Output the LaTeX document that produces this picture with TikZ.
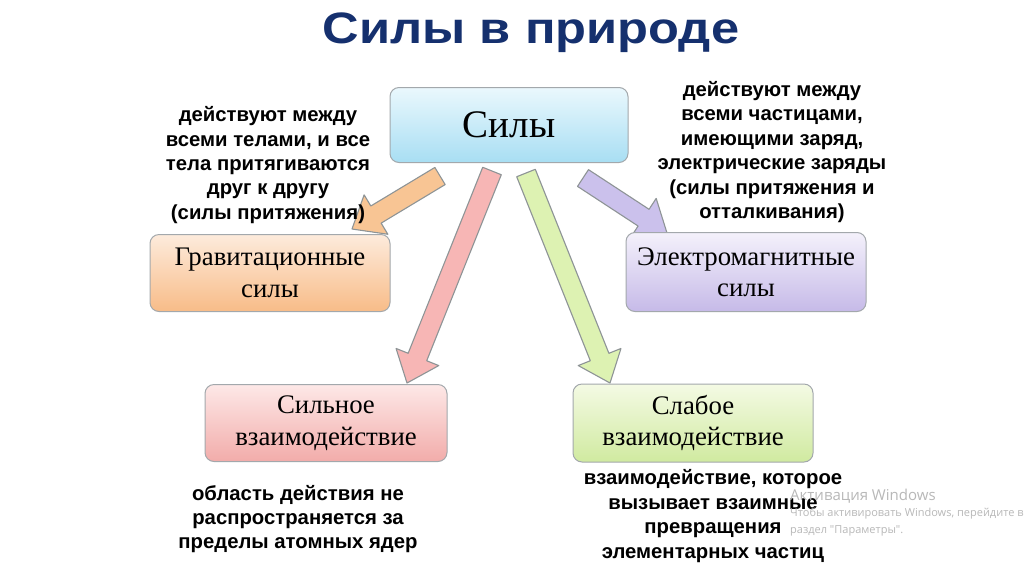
\documentclass[tikz,border=0pt]{standalone}
\usepackage{fontspec}
\setmainfont{Liberation Serif}
\setsansfont{Liberation Sans}
\newfontfamily\wmfont{Open Sans}
\usetikzlibrary{calc}
\definecolor{titleblue}{HTML}{15306E}
\definecolor{boxline}{HTML}{A3A8AC}
\definecolor{arrline}{HTML}{8E9496}
\definecolor{skyT}{HTML}{EAF8FD}\definecolor{skyB}{HTML}{A8DEF3}
\definecolor{orT}{HTML}{FDEBDC}\definecolor{orB}{HTML}{F8BC88}
\definecolor{viT}{HTML}{F4F1FB}\definecolor{viB}{HTML}{C6BAE8}
\definecolor{reT}{HTML}{FDE8E7}\definecolor{reB}{HTML}{F2ACAA}
\definecolor{grT}{HTML}{F4FAE4}\definecolor{grB}{HTML}{D0EAA0}
\definecolor{orA}{HTML}{F8C594}\definecolor{reA}{HTML}{F7B6B5}
\definecolor{grA}{HTML}{DDF2B2}\definecolor{viA}{HTML}{CBC1EC}
\newcommand{\blockarr}[3]{% tail, tip, fill colour
  \path ($(#2)!28pt!(#1)$) coordinate (bah);
  \draw[fill=#3, draw=arrline, line width=1.1pt, line join=round]
    ($(#1)!10pt!90:(#2)$) -- ($(bah)!10pt!-90:(#1)$) -- ($(bah)!23pt!-90:(#1)$)
    -- (#2) -- ($(bah)!23pt!90:(#1)$) -- ($(bah)!10pt!90:(#1)$)
    -- ($(#1)!10pt!-90:(#2)$) -- cycle;
}
\tikzset{
  box/.style={draw=boxline, line width=1pt, rounded corners=9pt, align=center,
    font=\fontsize{26.8}{31.5}\selectfont, minimum width=240pt, minimum height=77pt, inner sep=0pt},
  note/.style={align=center, font=\sffamily\bfseries\fontsize{20.3}{24.4}\selectfont, inner sep=0pt},
  wm/.style={text=black!28, anchor=west, inner sep=0pt}
}
\begin{document}
\begin{tikzpicture}[x=1pt, y=-1pt]
\useasboundingbox (0,0) rectangle (1024,574);
\fill[white] (0,0) rectangle (1024,574);

\node[font=\sffamily\bfseries\fontsize{44}{46}\selectfont, text=titleblue] (title) at (531,33) {\scalebox{1.15}[1]{Силы в природе}};

% arrow ends
\coordinate (oT) at (440,176); \coordinate (oH) at (352,229);
\coordinate (pT) at (492,171); \coordinate (pH) at (407,383);
\coordinate (gT) at (526,173); \coordinate (gH) at (610,383);
\coordinate (vT) at (583,178); \coordinate (vH) at (667,233);
\blockarr{oT}{oH}{orA}
\blockarr{pT}{pH}{reA}
\blockarr{gT}{gH}{grA}
\blockarr{vT}{vH}{viA}

\node[box, top color=skyT, bottom color=skyB, minimum width=238pt, minimum height=75pt,
  font=\fontsize{39}{40}\selectfont] (sily) at (509,125) {Силы};
\node[box, top color=orT, bottom color=orB] (grav) at (270,273) {Гравитационные\\силы};
\node[box, top color=viT, bottom color=viB, minimum height=79pt] (elec) at (746,272) {Электромагнитные\\силы};
\node[box, top color=reT, bottom color=reB, minimum width=242pt] (strong) at (326,423) {Сильное\\взаимодействие};
\node[box, top color=grT, bottom color=grB, minimum height=78pt] (weak) at (693,423) {Слабое\\взаимодействие};

\node[note] (ngrav) at (268,165) {действуют между\\всеми телами, и все\\тела притягиваются\\друг к другу\\(силы притяжения)};
\node[note] (nelec) at (772,152) {действуют между\\всеми частицами,\\имеющими заряд,\\электрические заряды\\(силы притяжения и\\отталкивания)};
\node[note] (nstrong) at (298,519) {область действия не\\распространяется за\\пределы атомных ядер};
\node[note] (nweak) at (713,516) {взаимодействие, которое\\вызывает взаимные\\превращения\\элементарных частиц};

\node[wm, font=\wmfont\fontsize{15}{17}\selectfont] (wm1) at (790,496) {Активация Windows};
\node[wm, font=\wmfont\fontsize{11}{13}\selectfont] (wm2) at (790,514) {Чтобы активировать Windows, перейдите в};
\node[wm, font=\wmfont\fontsize{11}{13}\selectfont] (wm3) at (790,531) {раздел "Параметры".};
\end{tikzpicture}
\end{document}
